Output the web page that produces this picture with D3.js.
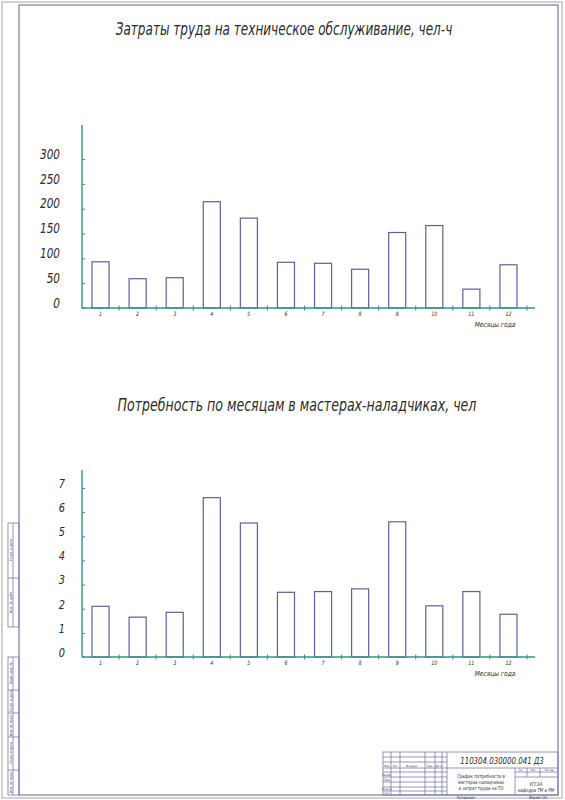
<!DOCTYPE html>
<html>
<head>
<meta charset="utf-8">
<script src="https://d3js.org/d3.v7.min.js"></script>
<style>
  body { margin: 0; background: #ffffff; }
  svg text { font-family: "DejaVu Sans", "Liberation Sans", sans-serif; font-style: italic; fill: #2b2b2b; }
</style>
</head>
<body>
<svg id="sheet" width="565" height="800"></svg>
<script>
  "use strict";

  // chart data
  const months = ["1", "2", "3", "4", "5", "6", "7", "8", "9", "10", "11", "12"];
  const laborHours = [93, 59, 61, 214, 181, 92, 90, 78, 152, 166, 38, 87];
  const laborTicks = [0, 50, 100, 150, 200, 250, 300];
  const adjusters = [2.1, 1.65, 1.85, 6.6, 5.55, 2.68, 2.71, 2.82, 5.6, 2.12, 2.71, 1.77];
  const adjusterTicks = [0, 1, 2, 3, 4, 5, 6, 7];

  const AXIS_COLOR = "#2f9486";
  const BAR_COLOR = "#5f5f9c";
  const FRAME_COLOR = "#7b7bab";

  const svg = d3.select("#sheet");

  // squeeze text horizontally (drafting fonts are narrow) by scaling round its anchor
  const condense = (sel, k) => sel.each(function () {
    const el = d3.select(this);
    const x = +el.attr("x") || 0;
    const y = +el.attr("y") || 0;
    el.attr("x", 0).attr("y", 0).attr("transform", `translate(${x},${y}) scale(${k},1)`);
  });

  // Sheet border
  svg.append("rect")
    .attr("x", 2).attr("y", 2).attr("width", 560).attr("height", 796)
    .attr("fill", "none").attr("stroke", "#c4c4c4").attr("stroke-width", 1.5);
  svg.append("rect")
    .attr("x", 19).attr("y", 5).attr("width", 539).attr("height", 790)
    .attr("fill", "none").attr("stroke", FRAME_COLOR).attr("stroke-width", 1.2);

  function drawChart(cfg) {
    const g = svg.append("g");

    const x = d3.scaleBand().domain(months).range([82, 527]);
    const y = d3.scaleLinear().domain([0, cfg.max]).range([cfg.base, cfg.base - cfg.span]);

    // bars
    g.selectAll("rect.bar")
      .data(cfg.values)
      .join("rect")
      .attr("class", "bar")
      .attr("x", (d, i) => x(months[i]) + x.bandwidth() * 0.27)
      .attr("y", d => y(d))
      .attr("width", x.bandwidth() * 0.46)
      .attr("height", d => y(0) - y(d))
      .attr("fill", "none")
      .attr("stroke", BAR_COLOR)
      .attr("stroke-width", 1.2);

    // y axis
    const yAxis = d3.axisLeft(y).tickValues(cfg.ticks).tickSize(-3).tickPadding(cfg.labelPad).tickFormat(d3.format("d"));
    const ya = g.append("g").attr("transform", "translate(82,0)").call(yAxis);
    ya.select(".domain").remove();
    ya.selectAll(".tick line").attr("stroke", AXIS_COLOR);
    ya.selectAll(".tick text")
      .attr("font-size", cfg.labelSize)
      .attr("dy", "-0.05em")
      .attr("fill", "#2b2b2b");
    condense(ya.selectAll(".tick text"), 0.75);

    g.append("line")
      .attr("x1", 82).attr("x2", 82)
      .attr("y1", cfg.top).attr("y2", cfg.base)
      .attr("stroke", AXIS_COLOR).attr("stroke-width", 1.4);

    // x axis
    g.append("line")
      .attr("x1", 82).attr("x2", 535)
      .attr("y1", cfg.base).attr("y2", cfg.base)
      .attr("stroke", AXIS_COLOR).attr("stroke-width", 1.4);
    g.selectAll("line.xtick")
      .data(months)
      .join("line")
      .attr("class", "xtick")
      .attr("x1", d => x(d) + x.bandwidth()).attr("x2", d => x(d) + x.bandwidth())
      .attr("y1", cfg.base - 2.5).attr("y2", cfg.base + 2.5)
      .attr("stroke", AXIS_COLOR).attr("stroke-width", 1);
    const ml = g.selectAll("text.month")
      .data(months)
      .join("text")
      .attr("class", "month")
      .attr("x", d => x(d) + x.bandwidth() / 2)
      .attr("y", cfg.base + 8)
      .attr("text-anchor", "middle")
      .attr("font-size", 6)
      .attr("fill", "#555")
      .text(d => d);
    condense(ml, 0.8);

    const xl = g.append("text")
      .attr("x", 495).attr("y", cfg.base + 19)
      .attr("text-anchor", "middle")
      .attr("font-size", 7)
      .attr("fill", "#444")
      .text("Месяцы года");
    condense(xl, 0.85);

    // title
    const t = g.append("text")
      .attr("x", cfg.titleX).attr("y", cfg.titleY)
      .attr("text-anchor", "middle")
      .attr("font-size", 17)
      .text(cfg.title);
    condense(t, cfg.titleK);
  }

  drawChart({
    values: laborHours, ticks: laborTicks, max: 300, base: 308, span: 149, top: 125,
    labelSize: 14, labelPad: 22,
    title: "Затраты труда на техническое обслуживание, чел-ч",
    titleX: 284, titleY: 35, titleK: 0.71
  });

  drawChart({
    values: adjusters, ticks: adjusterTicks, max: 7, base: 657, span: 169, top: 470,
    labelSize: 13, labelPad: 17,
    title: "Потребность по месяцам в мастерах-наладчиках, чел",
    titleX: 297, titleY: 411, titleK: 0.74
  });

  // Side stamp on the left margin
  const side = svg.append("g").attr("stroke", FRAME_COLOR).attr("stroke-width", 0.8).attr("fill", "none");
  const sideBlocks = [[523, 627, [578]], [657, 795, [690, 713, 737, 770]]];
  sideBlocks.forEach(([y1, y2, divs]) => {
    side.append("rect").attr("x", 8).attr("y", y1).attr("width", 11).attr("height", y2 - y1);
    side.append("line").attr("x1", 13).attr("x2", 13).attr("y1", y1).attr("y2", y2);
    divs.forEach(dy => side.append("line").attr("x1", 8).attr("x2", 19).attr("y1", dy).attr("y2", dy));
  });
  const sideLabels = [
    [550, "Подп. и дата"], [602, "Инв. № дубл."],
    [673, "Взам. инв. №"], [701, "Подп. и дата"], [725, "Инв. № подл."],
    [753, "Подп. и дата"], [782, "Инв. № подл."]
  ];
  sideLabels.forEach(([cy, t]) => {
    svg.append("text")
      .attr("transform", `translate(11.5,${cy}) rotate(-90)`)
      .attr("text-anchor", "middle")
      .attr("font-size", 3.2)
      .attr("fill", "#666")
      .text(t);
  });

  // Title block
  const tb = svg.append("g").attr("stroke", FRAME_COLOR).attr("stroke-width", 0.8).attr("fill", "none");
  tb.append("rect").attr("x", 383).attr("y", 752).attr("width", 175).attr("height", 43);
  [391, 400, 425, 435, 442, 447].forEach(vx =>
    tb.append("line").attr("x1", vx).attr("x2", vx).attr("y1", 752).attr("y2", 795));
  [757, 762, 768, 772, 777, 782, 787, 791].forEach(hy =>
    tb.append("line").attr("x1", 383).attr("x2", 447).attr("y1", hy).attr("y2", hy));
  tb.append("line").attr("x1", 447).attr("x2", 558).attr("y1", 768).attr("y2", 768);
  tb.append("line").attr("x1", 515).attr("x2", 515).attr("y1", 768).attr("y2", 795);
  tb.append("line").attr("x1", 515).attr("x2", 558).attr("y1", 772).attr("y2", 772);
  tb.append("line").attr("x1", 515).attr("x2", 558).attr("y1", 777).attr("y2", 777);
  [527, 540].forEach(vx =>
    tb.append("line").attr("x1", vx).attr("x2", vx).attr("y1", 768).attr("y2", 777));

  const tbText = (x, y, size, t, anchor) => svg.append("text")
    .attr("x", x).attr("y", y).attr("font-size", size)
    .attr("text-anchor", anchor || "middle").attr("fill", "#444").text(t);

  condense(tbText(502, 764, 9, "110304.030000.041 Д3"), 0.78);
  [["Изм.", 387, 767], ["Лист", 395.5, 767], ["№ докум.", 412, 767], ["Подп.", 430, 767], ["Дата", 438.5, 767],
   ["Разраб.", 387, 776], ["Пров.", 387, 781], ["Н.контр.", 387, 790], ["Утв.", 387, 794]]
    .forEach(([t, tx, ty]) => condense(tbText(tx, ty, 3, t), 0.8));
  [["График потребности в", 778], ["мастерах-наладчиках", 784], ["и затрат труда на ТО", 790]]
    .forEach(([t, ty]) => condense(tbText(481, ty, 5, t), 0.8));
  [["Лит.", 521, 771], ["Лист", 533.5, 771], ["Листов", 549, 771]]
    .forEach(([t, tx, ty]) => condense(tbText(tx, ty, 3, t), 0.8));
  [["УГСХА", 536, 786], ["кафедра ТМ и РМ", 536, 792]]
    .forEach(([t, tx, ty]) => condense(tbText(tx, ty, 5, t), 0.8));
  condense(tbText(466, 799, 4, "Копировал"), 0.8);
  condense(tbText(538, 799, 4, "Формат  А3"), 0.8);
</script>
</body>
</html>
